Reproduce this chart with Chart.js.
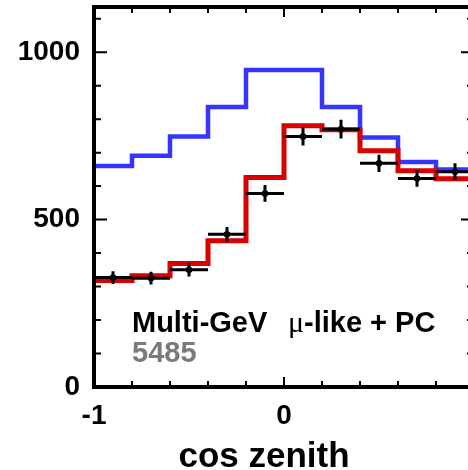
<!DOCTYPE html>
<html>
<head>
<meta charset="utf-8">
<script src="https://cdn.jsdelivr.net/npm/chart.js@4/dist/chart.umd.min.js"></script>
<style>
  html, body { margin: 0; padding: 0; background: #fff; overflow: hidden; }
  canvas { display: block; }
</style>
</head>
<body>
<canvas id="chart1" width="480" height="470"></canvas>
<script>
// cos zenith bins (edges), 10 bins of 0.2
const binEdges = [-1, -0.8, -0.6, -0.4, -0.2, 0, 0.2, 0.4, 0.6, 0.8, 1];
// expectation without oscillation (blue) and best fit (red)
const noOsc   = [660, 691, 748, 836, 947, 947, 836, 745, 672, 650];
const bestFit = [318, 332, 369, 437, 626, 780, 768, 706, 646, 622];
// observed events and their errors
const dataVals = [327, 325, 350, 456, 578, 748, 770, 668, 623, 643];
const dataErr  = [19, 19, 20, 22, 25, 27, 28, 26, 25, 25];
const xTicks = [-1, 0, 1];
const yTicks = [0, 500, 1000];

const FONT = '"Liberation Sans", Arial, Helvetica, sans-serif';

function stepPoints(vals) {
    const pts = vals.map((v, i) => ({ x: binEdges[i], y: v }));
    pts.push({ x: binEdges[binEdges.length - 1], y: vals[vals.length - 1] });
    return pts;
}

const dataPts = dataVals.map((v, i) => ({ x: (binEdges[i] + binEdges[i + 1]) / 2, y: v }));

// frame, inward ticks, error bars and labels
const decor = {
    id: 'decor',
    afterDatasetsDraw(chart) {
        const ctx = chart.ctx;
        const xs = chart.scales.x, ys = chart.scales.y;
        ctx.save();
        ctx.strokeStyle = '#000';
        ctx.lineWidth = 3;
        dataPts.forEach((p, i) => {
            const x0 = xs.getPixelForValue(binEdges[i]);
            const x1 = xs.getPixelForValue(binEdges[i + 1]);
            const yc = ys.getPixelForValue(p.y);
            const xc = xs.getPixelForValue(p.x);
            ctx.beginPath();
            ctx.moveTo(x0, yc); ctx.lineTo(x1, yc);
            ctx.moveTo(xc, ys.getPixelForValue(p.y - dataErr[i]));
            ctx.lineTo(xc, ys.getPixelForValue(p.y + dataErr[i]));
            ctx.stroke();
        });
        ctx.restore();
    },
    afterDraw(chart) {
        const ctx = chart.ctx;
        const a = chart.chartArea;
        const xs = chart.scales.x, ys = chart.scales.y;
        ctx.save();
        ctx.strokeStyle = '#000';
        ctx.lineWidth = 2;
        ctx.beginPath();
        for (let v = 0; v <= 1100; v += 100) {
            const y = ys.getPixelForValue(v);
            const len = v % 500 === 0 ? 13 : 7;
            ctx.moveTo(a.left, y); ctx.lineTo(a.left + len, y);
            ctx.moveTo(a.right, y); ctx.lineTo(a.right - len, y);
        }
        for (let k = -5; k <= 5; k++) {
            const x = xs.getPixelForValue(k * 0.2);
            const len = k % 5 === 0 ? 10 : 6;
            ctx.moveTo(x, a.bottom); ctx.lineTo(x, a.bottom - len);
            ctx.moveTo(x, a.top); ctx.lineTo(x, a.top + len);
        }
        ctx.stroke();

        ctx.lineWidth = 4;
        ctx.strokeRect(a.left, a.top, a.right - a.left, a.bottom - a.top);

        ctx.fillStyle = '#000';
        ctx.textBaseline = 'alphabetic';
        ctx.textAlign = 'left';
        ctx.font = 'bold 29px ' + FONT;
        ctx.fillText('Multi-GeV', 132, 332);
        ctx.font = '30px "Liberation Serif", "Times New Roman", serif';
        ctx.fillText('\u03bc', 288, 332);
        ctx.font = 'bold 29px ' + FONT;
        ctx.fillText('-like + PC', 304, 332);
        ctx.fillStyle = '#7a7a7a';
        ctx.fillText('5485', 132, 362);

        ctx.fillStyle = '#000';
        ctx.textAlign = 'center';
        ctx.font = 'bold 35px ' + FONT;
        ctx.fillText('cos zenith', 264, 467);
        ctx.restore();
    }
};

function noPad(s) {
    s.paddingTop = 0; s.paddingBottom = 0;
    s.paddingLeft = 0; s.paddingRight = 0;
}

var ctx1 = document.getElementById('chart1').getContext('2d');
var chart1 = new Chart(ctx1, {
    type: 'line',
    data: {
        datasets: [{
            label: 'data',
            data: dataPts,
            showLine: false,
            pointStyle: 'circle',
            pointRadius: 3,
            backgroundColor: '#000',
            borderColor: '#000'
        }, {
            label: 'best fit',
            data: stepPoints(bestFit),
            stepped: 'before',
            borderColor: '#d80000',
            borderWidth: 5,
            pointRadius: 0,
            fill: false
        }, {
            label: 'no oscillation',
            data: stepPoints(noOsc),
            stepped: 'before',
            borderColor: '#3535ff',
            borderWidth: 4.5,
            pointRadius: 0,
            fill: false
        }]
    },
    options: {
        responsive: false,
        animation: false,
        devicePixelRatio: 1,
        layout: { padding: { top: 7, right: 6, left: 0, bottom: 0 } },
        plugins: { legend: { display: false }, tooltip: { enabled: false } },
        scales: {
            x: {
                type: 'linear',
                min: -1,
                max: 1,
                grid: { display: false, drawTicks: false },
                border: { display: false },
                ticks: {
                    color: '#000',
                    font: { family: FONT, size: 28, weight: 'bold' },
                    padding: 12,
                    maxRotation: 0,
                    autoSkip: false,
                    callback: v => String(v)
                },
                afterBuildTicks: s => { s.ticks = xTicks.map(v => ({ value: v })); },
                afterFit: s => { s.height = 83; noPad(s); }
            },
            y: {
                min: 0,
                max: 1135,
                grid: { display: false, drawTicks: false },
                border: { display: false },
                ticks: {
                    color: '#000',
                    font: { family: FONT, size: 28, weight: 'bold' },
                    padding: 14,
                    callback: v => String(v)
                },
                afterBuildTicks: s => { s.ticks = yTicks.map(v => ({ value: v })); },
                afterFit: s => { s.width = 94; noPad(s); }
            }
        }
    },
    plugins: [decor]
});
</script>
</body>
</html>
